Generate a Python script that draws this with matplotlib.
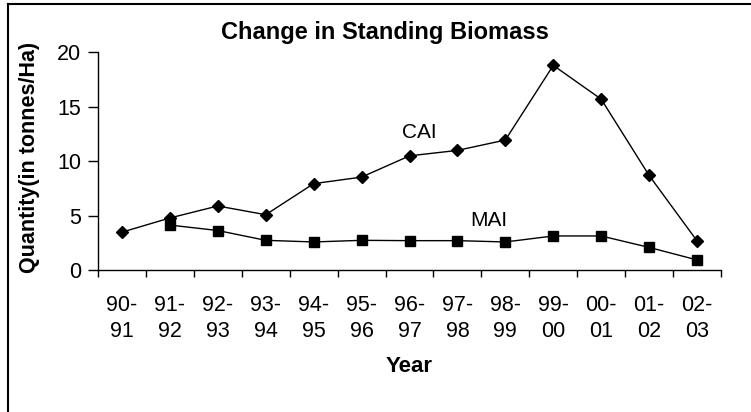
import matplotlib.pyplot as plt
from matplotlib.lines import Line2D

plt.rcParams['font.family'] = ['Liberation Sans', 'DejaVu Sans']

# Data
years = ['90-\n91', '91-\n92', '92-\n93', '93-\n94', '94-\n95', '95-\n96', '96-\n97',
         '97-\n98', '98-\n99', '99-\n00', '00-\n01', '01-\n02', '02-\n03']
cai = [3.5, 4.8, 5.9, 5.1, 7.95, 8.55, 10.5, 11.0, 11.95, 18.8, 15.7, 8.7, 2.7]
mai_years = years[1:]
mai = [4.15, 3.65, 2.75, 2.6, 2.75, 2.72, 2.72, 2.6, 3.15, 3.15, 2.1, 0.95]

W, H = 751, 412
fig = plt.figure(figsize=(W / 100, H / 100), dpi=100)
ax = fig.add_axes([98 / W, 1 - 270.3 / H, (721 - 98) / W, (270.3 - 52.3) / H])

x_cai = list(range(len(years)))
x_mai = [years.index(y) for y in mai_years]

ax.plot(x_cai, cai, color='black', lw=1.0, marker='D', ms=6, mfc='black', mec='black')
ax.plot(x_mai, mai, color='black', lw=1.0, marker='s', ms=6.5, mfc='black', mec='black')

ax.set_xlim(-0.5, len(years) - 0.5)
ax.set_ylim(0, 20)
ax.set_yticks([0, 5, 10, 15, 20])

# tick marks between categories, labels centered on categories
ax.set_xticks([i - 0.5 for i in range(len(years) + 1)])
ax.set_xticklabels([])
ax.set_xticks(x_cai, minor=True)
ax.set_xticklabels(years, minor=True, linespacing=1.3)
ax.tick_params(axis='x', which='major', direction='out', length=5, width=1)
ax.tick_params(axis='x', which='minor', length=0, pad=18, labelsize=15.5)
ax.tick_params(axis='y', direction='out', length=7, width=1, pad=5, labelsize=15.5)

for s in ['top', 'right']:
    ax.spines[s].set_visible(False)
for s in ['left', 'bottom']:
    ax.spines[s].set_linewidth(1)

fig.text(419 / W, 1 - 133 / H, 'CAI', fontsize=15, ha='center', va='center')
fig.text(489 / W, 1 - 220 / H, 'MAI', fontsize=15, ha='center', va='center')

fig.text(385 / W, 1 - 33 / H, 'Change in Standing Biomass', fontsize=17,
         fontweight='bold', ha='center', va='center')
fig.text(30 / W, 1 - 157 / H, 'Quantity(in tonnes/Ha)', fontsize=15.5,
         fontweight='bold', ha='center', va='center', rotation=90)
fig.text(409 / W, 1 - 367 / H, 'Year', fontsize=16, fontweight='bold',
         ha='center', va='center')

# outer chart frame (only top and left edges visible)
fig.add_artist(Line2D([8 / W, 1], [1 - 4 / H, 1 - 4 / H], color='black', lw=1.5,
                      transform=fig.transFigure))
fig.add_artist(Line2D([8 / W, 8 / W], [1 - 4 / H, 0], color='black', lw=1.5,
                      transform=fig.transFigure))

fig.savefig('out.png', dpi=100)
